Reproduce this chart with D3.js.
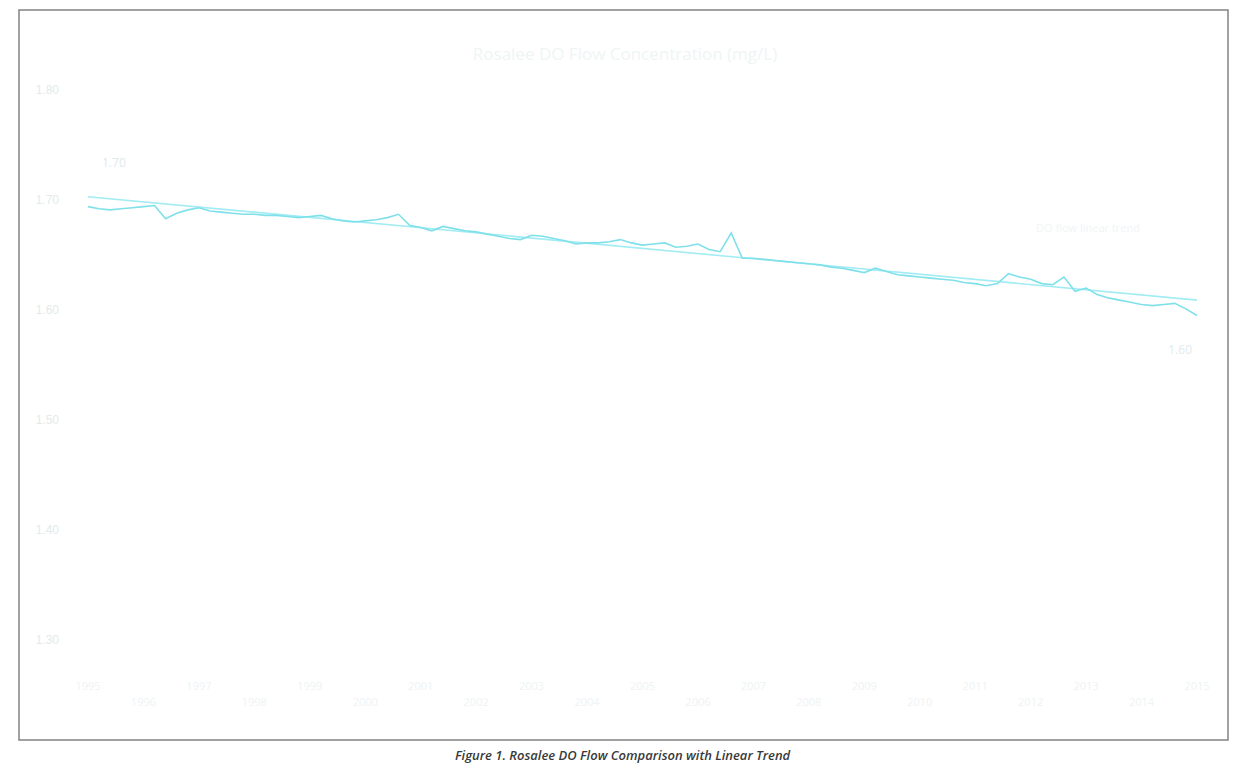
<!DOCTYPE html>
<html>
<head>
  <meta charset="UTF-8">
  <script src="https://d3js.org/d3.v7.min.js"></script>
  <title>Rosalee DO Flow</title>
  <style>
    body { margin: 0; background: #fff; overflow: hidden; }
    svg { display: block; font-family: 'Open Sans', 'DejaVu Sans', sans-serif; }
  </style>
</head>
<body>
  <svg width="1253" height="765"></svg>
  <script>
    // values
    const flowValues = [
      1.694, 1.692, 1.691, 1.692, 1.693, 1.694, 1.695, 1.683, 1.688, 1.691,
      1.693, 1.690, 1.689, 1.688, 1.687, 1.687, 1.686, 1.686, 1.685, 1.684,
      1.685, 1.686, 1.683, 1.681, 1.680, 1.681, 1.682, 1.684, 1.687, 1.677,
      1.675, 1.672, 1.676, 1.674, 1.672, 1.671, 1.669, 1.667, 1.665, 1.664,
      1.668, 1.667, 1.665, 1.663, 1.660, 1.661, 1.661, 1.662, 1.664, 1.661,
      1.659, 1.660, 1.661, 1.657, 1.658, 1.660, 1.655, 1.653, 1.670, 1.647,
      1.647, 1.646, 1.645, 1.644, 1.643, 1.642, 1.641, 1.639, 1.638, 1.636,
      1.634, 1.638, 1.635, 1.632, 1.631, 1.630, 1.629, 1.628, 1.627, 1.625,
      1.624, 1.622, 1.624, 1.633, 1.630, 1.628, 1.624, 1.623, 1.630, 1.617,
      1.620, 1.614, 1.611, 1.609, 1.607, 1.605, 1.604, 1.605, 1.606, 1.601,
      1.595
    ];
    const trendIdx = [0, 100];
    const trendValues = [1.703, 1.609];
    const yTicks = [1.3, 1.4, 1.5, 1.6, 1.7, 1.8];
    const xTickIdx = [0, 5, 10, 15, 20, 25, 30, 35, 40, 45, 50, 55, 60, 65, 70, 75, 80, 85, 90, 95, 100];
    const xTickLabels = ["1995", "1996", "1997", "1998", "1999", "2000", "2001", "2002", "2003", "2004",
      "2005", "2006", "2007", "2008", "2009", "2010", "2011", "2012", "2013", "2014", "2015"];
    const startLabel = "1.70";
    const endLabel = "1.60";

    const svg = d3.select("svg");

    const x = d3.scaleLinear().domain([0, flowValues.length - 1]).range([88, 1197]);
    const y = d3.scaleLinear().domain([1.3, 1.8]).range([640, 90]);

    // outer frame
    svg.append("rect")
      .attr("x", 19).attr("y", 10)
      .attr("width", 1209).attr("height", 730)
      .attr("fill", "none")
      .attr("stroke", "#8a8a8a")
      .attr("stroke-width", 1.6);

    // title (very faded in the scan)
    svg.append("text")
      .attr("x", 625).attr("y", 60)
      .attr("text-anchor", "middle")
      .attr("font-size", 17)
      .attr("fill", "#eef5f5")
      .text("Rosalee DO Flow    Concentration (mg/L)");

    // y axis labels
    const yAxis = d3.axisLeft(y).tickValues(yTicks).tickFormat(d3.format(".2f")).tickSize(0);
    svg.append("g")
      .attr("transform", "translate(62,0)")
      .call(yAxis)
      .call(g => g.select(".domain").remove())
      .call(g => g.selectAll("text").attr("fill", "#e2ebeb").attr("font-size", 12));

    // x axis labels, alternating rows
    svg.append("g").selectAll("text")
      .data(xTickIdx)
      .join("text")
      .attr("x", d => x(d))
      .attr("y", (d, i) => i % 2 ? 706 : 690)
      .attr("text-anchor", "middle")
      .attr("font-size", 11)
      .attr("fill", "#eef3f3")
      .text((d, i) => xTickLabels[i]);

    // trend line
    const trendLine = d3.line().x((d, i) => x(trendIdx[i])).y(d => y(d));
    svg.append("path")
      .datum(trendValues)
      .attr("d", trendLine)
      .attr("fill", "none")
      .attr("stroke", "#a2ecf3")
      .attr("stroke-width", 1.6);

    // data line
    const flowLine = d3.line().x((d, i) => x(i)).y(d => y(d));
    svg.append("path")
      .datum(flowValues)
      .attr("d", flowLine)
      .attr("fill", "none")
      .attr("stroke", "#7fe0ea")
      .attr("stroke-width", 1.6);

    // end labels
    svg.append("text")
      .attr("x", x(0) + 14).attr("y", y(trendValues[0]) - 30)
      .attr("font-size", 12).attr("fill", "#dfe8e8")
      .text(startLabel);
    svg.append("text")
      .attr("x", x(flowValues.length - 1) - 5).attr("y", y(flowValues[flowValues.length - 1]) + 38)
      .attr("text-anchor", "end")
      .attr("font-size", 12).attr("fill", "#e2ebeb")
      .text(endLabel);
    svg.append("text")
      .attr("x", 1140).attr("y", 232)
      .attr("text-anchor", "end")
      .attr("font-size", 11).attr("fill", "#f0f5f5")
      .text("DO flow   linear trend");

    // caption under the frame
    svg.append("text")
      .attr("x", 455).attr("y", 760)
      .attr("font-size", 13)
      .attr("font-style", "italic")
      .attr("font-weight", 600)
      .attr("fill", "#3a3a3a")
      .text("Figure 1. Rosalee DO Flow Comparison with Linear Trend");
  </script>
</body>
</html>
